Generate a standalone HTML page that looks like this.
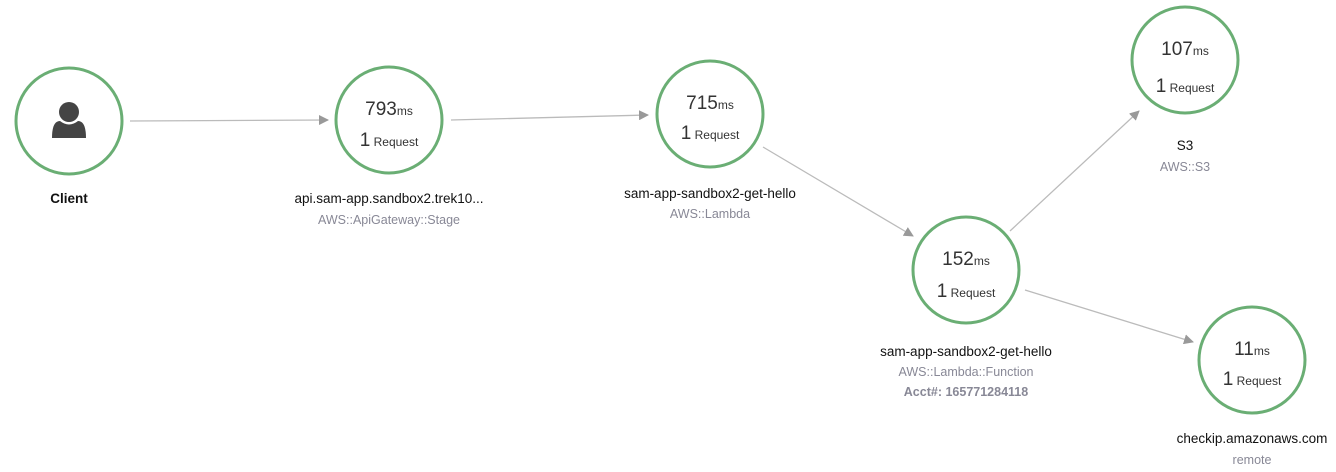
<!DOCTYPE html>
<html><head><meta charset="utf-8"><style>
body{margin:0;background:#fff;width:1336px;height:472px;overflow:hidden;font-family:"Liberation Sans",sans-serif}
svg{display:block}
.n{font-size:19px;fill:#333}
.u{font-size:12px;fill:#333}
.l{font-size:13.5px;fill:#111}
.t{font-size:12.5px;fill:#888896}
</style></head><body>
<svg width="1336" height="472" viewBox="0 0 1336 472">
<defs><marker id="a" markerWidth="10" markerHeight="10" refX="9" refY="5" orient="auto" markerUnits="userSpaceOnUse"><path d="M0,0 L10,5 L0,10 z" fill="#999"/></marker></defs>
<g stroke="#bbb" stroke-width="1.3" fill="none" marker-end="url(#a)">
<line x1="130" y1="121" x2="328" y2="120"/>
<line x1="451" y1="120" x2="648" y2="115"/>
<line x1="763" y1="147" x2="913" y2="236"/>
<line x1="1010" y1="231" x2="1139" y2="111"/>
<line x1="1025" y1="290" x2="1193" y2="342"/>
</g>
<g fill="#fff" stroke="#6aae74" stroke-width="3">
<circle cx="69" cy="121" r="53"/>
<circle cx="389" cy="120" r="53"/>
<circle cx="710" cy="114" r="53"/>
<circle cx="966" cy="270" r="53"/>
<circle cx="1185" cy="60" r="53"/>
<circle cx="1252" cy="360" r="53"/>
</g>
<g fill="#444">
<circle cx="69" cy="112" r="10"/>
<path d="M52,138 Q52,121 60,121 Q69,128 78,121 Q86,121 86,138 Z"/>
</g>
<g text-anchor="middle">
<text x="69" y="203" class="l" font-weight="bold">Client</text>

<text x="389" y="115"><tspan class="n">793</tspan><tspan class="u">ms</tspan></text>
<text x="389" y="146"><tspan class="n">1</tspan><tspan class="u"> Request</tspan></text>
<text x="389" y="203" class="l">api.sam-app.sandbox2.trek10...</text>
<text x="389" y="224" class="t">AWS::ApiGateway::Stage</text>

<text x="710" y="109"><tspan class="n">715</tspan><tspan class="u">ms</tspan></text>
<text x="710" y="139"><tspan class="n">1</tspan><tspan class="u"> Request</tspan></text>
<text x="710" y="198" class="l">sam-app-sandbox2-get-hello</text>
<text x="710" y="218" class="t">AWS::Lambda</text>

<text x="966" y="265"><tspan class="n">152</tspan><tspan class="u">ms</tspan></text>
<text x="966" y="297"><tspan class="n">1</tspan><tspan class="u"> Request</tspan></text>
<text x="966" y="356" class="l">sam-app-sandbox2-get-hello</text>
<text x="966" y="376" class="t">AWS::Lambda::Function</text>
<text x="966" y="396" class="t" font-weight="bold">Acct#: 165771284118</text>

<text x="1185" y="55"><tspan class="n">107</tspan><tspan class="u">ms</tspan></text>
<text x="1185" y="92"><tspan class="n">1</tspan><tspan class="u"> Request</tspan></text>
<text x="1185" y="150" class="l">S3</text>
<text x="1185" y="171" class="t">AWS::S3</text>

<text x="1252" y="355"><tspan class="n">11</tspan><tspan class="u">ms</tspan></text>
<text x="1252" y="385"><tspan class="n">1</tspan><tspan class="u"> Request</tspan></text>
<text x="1252" y="443" class="l">checkip.amazonaws.com</text>
<text x="1252" y="464" class="t">remote</text>
</g>
</svg>
</body></html>
